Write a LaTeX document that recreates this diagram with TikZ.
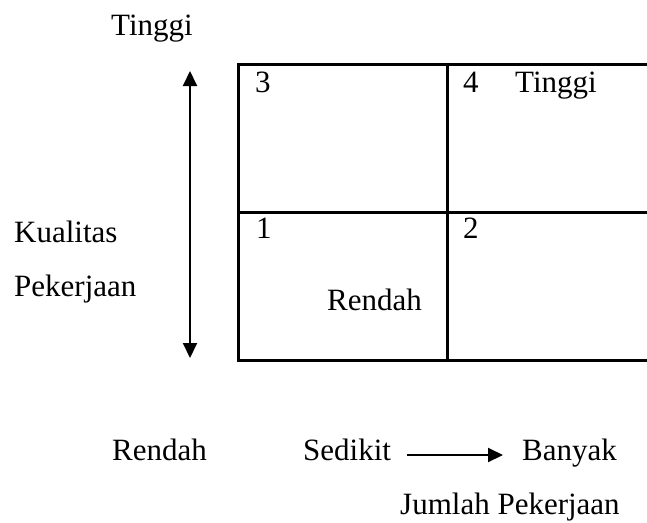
\documentclass[tikz,border=0pt]{standalone}
\usepackage{fontspec}
\setmainfont{Liberation Serif}
\usetikzlibrary{arrows.meta}
\tikzset{
  cell/.style={draw, line width=2.6pt, rectangle, inner sep=0pt, anchor=north west},
  lbl/.style={anchor=base west, inner sep=0pt, font=\fontsize{31}{37}\selectfont},
  axis/.style={line width=2pt, -{Triangle[length=15pt,width=14pt]}},
  axisboth/.style={line width=2pt, {Triangle[length=15pt,width=14pt]}-{Triangle[length=15pt,width=14pt]}}
}
\begin{document}
\begin{tikzpicture}[x=1pt,y=-1pt]
\useasboundingbox (0,0) rectangle (647,522);
% the four quadrants
\node[cell, minimum width=209pt, minimum height=148pt] (c3) at (237,63) {};
\node[cell, minimum width=208pt, minimum height=148pt] (c4) at (446,63) {};
\node[cell, minimum width=209pt, minimum height=148pt] (c1) at (237,211) {};
\node[cell, minimum width=208pt, minimum height=148pt] (c2) at (446,211) {};
% quadrant labels
\node[lbl] (n3) at (255,92) {3};
\node[lbl] (n4) at (463,92) {4};
\node[lbl] (t4) at (515,92) {Tinggi};
\node[lbl] (n1) at (256,238) {1};
\node[lbl] (n2) at (463,238) {2};
\node[lbl] (r1) at (327,310) {Rendah};
% vertical axis: quality of work
\coordinate (vtop) at (190,71);
\coordinate (vbot) at (190,358);
\draw[axisboth] (vbot) -- (vtop);
\node[lbl] (hi) at (111,35) {Tinggi};
\node[lbl] (kual) at (14,242) {Kualitas};
\node[lbl] (pek) at (14,296) {Pekerjaan};
\node[lbl] (lo) at (112,460) {Rendah};
% horizontal axis: amount of work
\node[lbl] (sed) at (303,460) {Sedikit};
\node[lbl] (ban) at (522,460) {Banyak};
\draw[axis] ([xshift=16pt,yshift=5pt]sed.base east) -- ([xshift=-19pt,yshift=5pt]ban.base west);
\node[lbl] (jml) at (400,514) {Jumlah Pekerjaan};
\end{tikzpicture}
\end{document}
